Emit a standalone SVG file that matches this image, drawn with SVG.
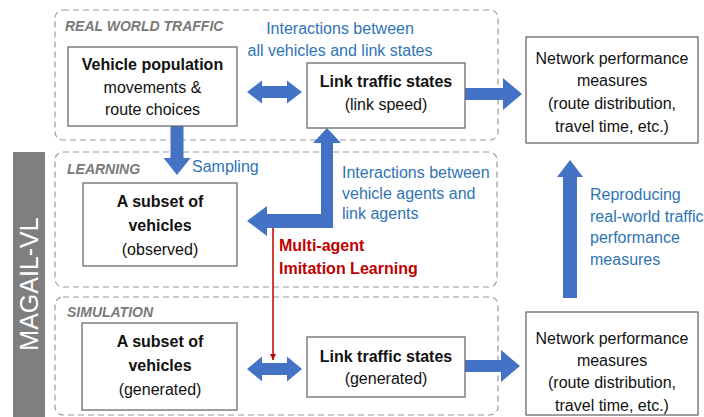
<svg xmlns="http://www.w3.org/2000/svg" width="704" height="417" viewBox="0 0 704 417">
<style>
text{font-family:"Liberation Sans",Arial,sans-serif;}
.panel{fill:none;stroke:#9a9a9a;stroke-width:1.2;stroke-dasharray:6 4;}
.plabel{font-size:14px;font-weight:bold;font-style:italic;fill:#7a7a7a;}
.box{fill:#fff;stroke:#6b6b6b;stroke-width:1.3;}
.t{font-size:16px;fill:#111;text-anchor:middle;}
.b{font-weight:bold;}
.blue{font-size:16px;fill:#2f74b5;}
.red{font-size:16px;fill:#c00000;font-weight:bold;}
.arr{fill:#4472c4;}
</style>
<defs>
<marker id="redHead" viewBox="0 0 10 10" refX="10" refY="5" markerWidth="6" markerHeight="6" orient="auto" markerUnits="userSpaceOnUse">
<path d="M0,0 L10,5 L0,10 z" fill="#c00000"/>
</marker>
</defs>

<g id="magail-vl">
<rect x="13" y="152" width="32" height="265" fill="#7f7f7f"/>
<text transform="translate(38,284) rotate(-90)" font-size="25" fill="#fff" text-anchor="middle">MAGAIL-VL</text>
</g>

<g id="panel-real">
<rect class="panel" x="55" y="10" width="443" height="130" rx="8"/>
<text class="plabel" x="65" y="31">REAL WORLD TRAFFIC</text>
</g>
<g id="panel-learning">
<rect class="panel" x="55" y="152" width="442" height="135" rx="8"/>
<text class="plabel" x="67" y="174">LEARNING</text>
</g>
<g id="panel-simulation">
<rect class="panel" x="55" y="297" width="443" height="118" rx="8"/>
<text class="plabel" x="67" y="317">SIMULATION</text>
</g>

<g id="connectors">
<polygon class="arr" points="247,92 262,80.5 262,86 287,86 287,80.5 302,92 287,103.5 287,98 262,98 262,103.5"/>
<polygon class="arr" points="465,88 503,88 503,78 522,94 503,110 503,100 465,100"/>
<polygon class="arr" points="170.5,126 183.5,126 183.5,158 190.5,158 177,175 163.5,158 170.5,158"/>
<polygon class="arr" points="327,128 341,143 333,143 333,228 267,228 267,236 247,221 267,206 267,214 321,214 321,143 313,143"/>
<line x1="273" y1="228" x2="273" y2="360" stroke="#c00000" stroke-width="1.5" marker-end="url(#redHead)"/>
<polygon class="arr" points="247,369 262,356.5 262,363 287,363 287,356.5 302,369 287,381.5 287,375 262,375 262,381.5"/>
<polygon class="arr" points="465,360 501,360 501,350 520,366 501,382 501,372 465,372"/>
<polygon class="arr" points="563,298 563,177 557,177 570,160 583,177 577,177 577,298"/>
<text class="blue" x="340" y="34" text-anchor="middle">Interactions between</text>
<text class="blue" x="340" y="56" text-anchor="middle">all vehicles and link states</text>
<text class="blue" x="192" y="172">Sampling</text>
<text class="blue" x="342" y="178">Interactions between</text>
<text class="blue" x="342" y="199">vehicle agents and</text>
<text class="blue" x="342" y="219">link agents</text>
<text class="red" x="279" y="251">Multi-agent</text>
<text class="red" x="279" y="274">Imitation Learning</text>
<text class="blue" x="590" y="200">Reproducing</text>
<text class="blue" x="590" y="222">real-world traffic</text>
<text class="blue" x="590" y="243">performance</text>
<text class="blue" x="590" y="265">measures</text>
</g>

<g id="vehicle-population">
<rect class="box" x="68" y="47" width="169" height="79"/>
<text class="t b" x="152.5" y="70">Vehicle population</text>
<text class="t" x="152.5" y="93">movements &amp;</text>
<text class="t" x="152.5" y="115">route choices</text>
</g>
<g id="link-states-real">
<rect class="box" x="307" y="63" width="158" height="65"/>
<text class="t b" x="386" y="87">Link traffic states</text>
<text class="t" x="386" y="110">(link speed)</text>
</g>
<g id="network-real">
<rect class="box" x="526" y="37" width="172" height="106"/>
<text class="t" x="612" y="64">Network performance</text>
<text class="t" x="612" y="86">measures</text>
<text class="t" x="612" y="109">(route distribution,</text>
<text class="t" x="612" y="132">travel time, etc.)</text>
</g>
<g id="subset-observed">
<rect class="box" x="83" y="183" width="154" height="83"/>
<text class="t b" x="160" y="207">A subset of</text>
<text class="t b" x="160" y="231">vehicles</text>
<text class="t" x="160" y="255">(observed)</text>
</g>
<g id="subset-generated">
<rect class="box" x="82" y="323" width="155" height="87"/>
<text class="t b" x="160" y="347">A subset of</text>
<text class="t b" x="160" y="371">vehicles</text>
<text class="t" x="160" y="395">(generated)</text>
</g>
<g id="link-states-generated">
<rect class="box" x="307" y="337" width="158" height="60"/>
<text class="t b" x="386" y="362">Link traffic states</text>
<text class="t" x="386" y="384">(generated)</text>
</g>
<g id="network-simulated">
<rect class="box" x="526" y="312" width="172" height="103"/>
<text class="t" x="612" y="344">Network performance</text>
<text class="t" x="612" y="366">measures</text>
<text class="t" x="612" y="388">(route distribution,</text>
<text class="t" x="612" y="411">travel time, etc.)</text>
</g>
</svg>
